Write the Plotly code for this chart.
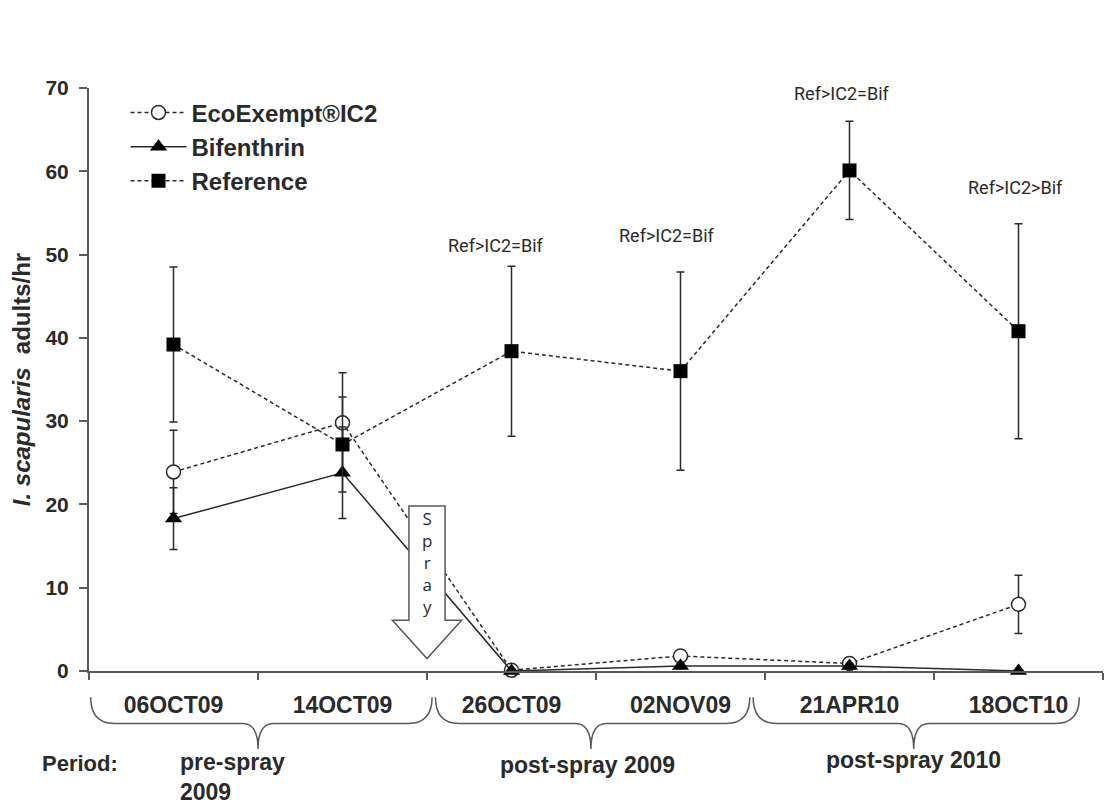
import plotly.graph_objects as go

# sampling dates (categories)
dates = ["06OCT09", "14OCT09", "26OCT09", "02NOV09", "21APR10", "18OCT10"]

# mean I. scapularis adults/hr and SE
ic2 = [23.9, 29.8, 0.1, 1.8, 0.9, 8.0]
ic2_err = [5.0, 6.0, 0.2, 0.5, 0.4, 3.5]
bif = [18.3, 23.8, 0.0, 0.6, 0.6, 0.0]
bif_err = [3.7, 5.5, 0.0, 0.3, 0.3, 0.0]
ref = [39.2, 27.2, 38.4, 36.0, 60.1, 40.8]
ref_err = [9.3, 5.7, 10.2, 11.9, 5.9, 12.9]

stats = ["Ref>IC2=Bif", "Ref>IC2=Bif", "Ref>IC2=Bif", "Ref>IC2>Bif"]
periods = ["pre-spray<br>2009", "post-spray 2009", "post-spray 2010"]

INK = "#2a2a2a"
AXIS = "#5a5a5a"
FONT = "Arial, Liberation Sans, sans-serif"

xs = list(range(len(dates)))

fig = go.Figure()

err = dict(type="data", color=INK, thickness=1.5, width=4)

fig.add_trace(go.Scatter(
    x=xs, y=ic2, name="EcoExempt®IC2", mode="lines+markers",
    line=dict(color=INK, width=1.5, dash="4px,3px"),
    marker=dict(symbol="circle", size=14, color="white", line=dict(color=INK, width=1.5)),
    error_y=dict(err, array=ic2_err),
    cliponaxis=False,
))
fig.add_trace(go.Scatter(
    x=xs, y=bif, name="Bifenthrin", mode="lines+markers",
    line=dict(color=INK, width=1.5),
    marker=dict(symbol="triangle-up", size=15, color="black"),
    error_y=dict(err, array=bif_err),
    cliponaxis=False,
))
fig.add_trace(go.Scatter(
    x=xs, y=ref, name="Reference", mode="lines+markers",
    line=dict(color=INK, width=1.5, dash="4px,3px"),
    marker=dict(symbol="square", size=14, color="black"),
    error_y=dict(err, array=ref_err),
    cliponaxis=False,
))

# "Spray" block arrow between 14OCT09 and 26OCT09
cx, sw, hw, top, neck, tip = 1.5, 0.107, 0.205, 19.8, 6.1, 1.5
arrow = (f"M {cx-sw},{top} L {cx+sw},{top} L {cx+sw},{neck} L {cx+hw},{neck} "
         f"L {cx},{tip} L {cx-hw},{neck} L {cx-sw},{neck} Z")
shapes = [dict(type="path", path=arrow, xref="x", yref="y", layer="above",
               fillcolor="white", line=dict(color=AXIS, width=1.5))]


def brace(a, b, c, r=0.14, rc=0.09, t=-0.045, h=-0.09, p=-0.134):
    path = (f"M {a},{t} Q {a},{h} {a+r},{h} L {c-rc},{h} Q {c},{h} {c},{p} "
            f"Q {c},{h} {c+rc},{h} L {b-r},{h} Q {b},{h} {b},{t}")
    return dict(type="path", path=path, xref="x", yref="paper",
                line=dict(color=AXIS, width=1.5))


shapes += [brace(-0.49, 1.53, 0.5), brace(1.55, 3.41, 2.47), brace(3.43, 5.36, 4.38)]

annotations = [dict(x=cx, y=13.0, xref="x", yref="y", text="S<br>p<br>r<br>a<br>y",
                    showarrow=False, font=dict(family="Open Sans", size=17, color=INK))]

for (sx, sy), s in zip([(1.91, 51.1), (2.92, 52.3), (3.955, 69.4), (4.98, 58.0)], stats):
    annotations.append(dict(x=sx, y=sy, xref="x", yref="y", text=s, showarrow=False,
                            font=dict(family="Roboto", size=18, color=INK)))

pfont = dict(family=FONT, size=23, color=INK, weight="bold")
annotations += [
    dict(x=-0.048, y=-0.158, xref="paper", yref="paper", text="Period:", showarrow=False,
         xanchor="left", yanchor="middle", font=dict(pfont, size=22)),
    dict(x=0.027, y=-0.131, xref="x", yref="paper", text=periods[0], showarrow=False,
         xanchor="left", yanchor="top", align="left", font=pfont),
    dict(x=2.447, y=-0.161, xref="x", yref="paper", text=periods[1], showarrow=False,
         xanchor="center", yanchor="middle", font=pfont),
    dict(x=4.376, y=-0.153, xref="x", yref="paper", text=periods[2], showarrow=False,
         xanchor="center", yanchor="middle", font=pfont),
]

# the page body adds an 8px offset, so the figure is sized to fit inside it
fig.update_layout(
    width=1106, height=799,
    margin=dict(l=81, r=11, t=80, b=136),
    paper_bgcolor="white", plot_bgcolor="white",
    font=dict(family=FONT, color=INK),
    showlegend=True,
    legend=dict(x=0.036, y=0.996, xanchor="left", yanchor="top",
                bgcolor="rgba(0,0,0,0)", itemwidth=56,
                font=dict(family=FONT, size=24, color=INK, weight="bold")),
    shapes=shapes,
    annotations=annotations,
    xaxis=dict(
        range=[-0.5, 5.5], tickmode="array", tickvals=xs, ticktext=dates,
        ticks="", showgrid=False, zeroline=False,
        showline=True, linecolor=AXIS, linewidth=2,
        tickfont=dict(family=FONT, size=23, color=INK, weight="bold"),
        ticklabelstandoff=12,
        minor=dict(tickmode="array", tickvals=[i - 0.5 for i in range(len(dates) + 1)],
                   ticks="outside", ticklen=7, tickwidth=1.5, tickcolor=AXIS, showgrid=False),
    ),
    yaxis=dict(
        range=[0, 70], dtick=10, ticks="outside", ticklen=8, tickwidth=1.5, tickcolor=AXIS,
        showgrid=False, zeroline=False, showline=True, linecolor=AXIS, linewidth=2,
        tickfont=dict(family=FONT, size=21, color=INK, weight="bold"),
        ticklabelstandoff=6,
        title=dict(text="<i>I. scapularis</i>  adults/hr", standoff=16,
                   font=dict(family=FONT, size=24, color=INK, weight="bold")),
        automargin=False,
    ),
)

fig.write_html("out.html")
